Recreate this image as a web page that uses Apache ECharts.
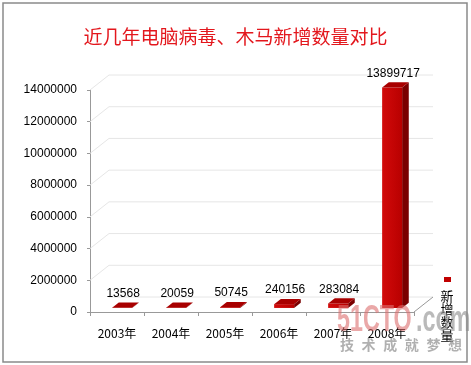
<!DOCTYPE html>
<html>
<head>
<meta charset="utf-8">
<script src="https://cdn.jsdelivr.net/npm/echarts@6/dist/echarts.min.js"></script>
<style>
html,body{margin:0;padding:0;background:#fff;}
#c{width:471px;height:365px;}
</style>
</head>
<body>
<div id="c"></div>
<script>
const titleText = '近几年电脑病毒、木马新增数量对比';
const categories = ['2003年', '2004年', '2005年', '2006年', '2007年', '2008年'];
const values = [13568, 20059, 50745, 240156, 283084, 13899717];
const gridValues = [2000000, 4000000, 6000000, 8000000, 10000000, 12000000, 14000000];
const legendName = '新增数量';
const watermarkChars = ['技', '术', '成', '就', '梦', '想'];

const DX = 19, DY = -15;      // depth offset of the 3D box
const F1 = 0.27, F2 = 0.62;   // bar front/back depth fractions

const chart = echarts.init(document.getElementById('c'), null, {renderer: 'canvas'});

function wallItem(params, api) {
  const cs = params.coordSys;
  const p = api.coord([0, api.value(1)]);
  const y = p[1];
  return {
    type: 'polyline',
    shape: {points: [[cs.x, y], [cs.x + DX, y + DY], [cs.x + cs.width + DX, y + DY]]},
    style: {stroke: '#e6e6e6', lineWidth: 1, fill: null},
    silent: true
  };
}

function barItem(params, api) {
  const i = api.value(0), v = api.value(1);
  const base = api.coord([i, 0]);
  const top = api.coord([i, v]);
  const band = api.size([1, 0])[0];
  const w = band * 0.37;
  const x0 = base[0] - w / 2 + F1 * DX, x1 = x0 + w;
  const yb = base[1] + F1 * DY, yt = top[1] + F1 * DY;
  const ddx = (F2 - F1) * DX, ddy = (F2 - F1) * DY;
  return {
    type: 'group',
    children: [
      {type: 'polygon', shape: {points: [[x1, yb], [x1, yt], [x1 + ddx, yt + ddy], [x1 + ddx, yb + ddy]]},
       style: {fill: '#7a0000'}},
      {type: 'rect', shape: {x: x0, y: yt, width: w, height: Math.max(yb - yt, 0)},
       style: {fill: new echarts.graphic.LinearGradient(0, 0, 1, 0, [
         {offset: 0, color: '#d20a0a'}, {offset: 1, color: '#b80000'}])}},
      {type: 'polygon', shape: {points: [[x0, yt], [x1, yt], [x1 + ddx, yt + ddy], [x0 + ddx, yt + ddy]]},
       style: {fill: '#a80000'}},
      {type: 'text', x: x0 + w / 2 + 1, y: yt + ddy - 9,
       style: {text: String(v), fill: '#000', font: '12px "Liberation Sans", Arial, sans-serif',
               align: 'center', verticalAlign: 'middle'}}
    ]
  };
}

const graphics = [
  {type: 'rect', shape: {x: 3, y: 3, width: 464, height: 359}, style: {fill: null, stroke: '#8a8a8a', lineWidth: 1.5}, z: 100},
  {type: 'line', shape: {x1: 414, y1: 312, x2: 414 + DX, y2: 312 + DY}, style: {stroke: '#999', lineWidth: 1}, z: 1},
  {type: 'line', shape: {x1: 90 + DX, y1: 312 + DY, x2: 414 + DX, y2: 312 + DY}, style: {stroke: '#e6e6e6', lineWidth: 1}, z: 0},
  {type: 'rect', shape: {x: 444, y: 277, width: 7, height: 5}, style: {fill: '#c00000'}, z: 10},
  {type: 'text', x: 447, y: 290, style: {text: legendName.split('').join('\n'), fill: '#000', font: '13px "Noto Sans CJK SC", sans-serif', align: 'center', lineHeight: 13}, z: 10},
  {type: 'text', x: 337, y: 302, scaleX: 0.63, originX: 0, originY: 0,
   style: {text: '51CTO', fill: 'rgba(220,110,110,0.6)', font: 'bold 37px "Liberation Sans", Arial, sans-serif'}, z: 50},
  {type: 'text', x: 416, y: 302, scaleX: 0.63, originX: 0, originY: 0,
   style: {text: '.com', fill: 'rgba(140,140,140,0.6)', font: 'bold 37px "Liberation Sans", Arial, sans-serif'}, z: 50}
];
watermarkChars.forEach((ch, k) => {
  graphics.push({type: 'text', x: 340 + k * 21.6, y: 338,
    style: {text: ch, fill: 'rgba(150,150,150,0.75)', font: 'bold 14px "Noto Sans CJK SC", sans-serif'}, z: 50});
});

chart.setOption({
  animation: false,
  backgroundColor: '#fff',
  title: {
    text: titleText, left: 'center', top: 22,
    textStyle: {color: '#e3171d', fontSize: 19, fontWeight: 'normal', fontFamily: '"Noto Sans CJK SC", sans-serif'}
  },
  grid: {left: 90, right: 57, top: 90, bottom: 53, containLabel: false},
  xAxis: {
    type: 'category', data: categories, boundaryGap: true,
    axisLine: {lineStyle: {color: '#999', width: 1}},
    axisTick: {show: true, length: 4, lineStyle: {color: '#999'}},
    axisLabel: {color: '#000', fontSize: 12, margin: 15, fontFamily: '"Noto Sans CJK SC", "Liberation Sans", sans-serif'},
    splitLine: {show: false}
  },
  yAxis: {
    type: 'value', min: 0, max: 14000000, interval: 2000000,
    axisLine: {show: true, lineStyle: {color: '#999', width: 1}},
    axisTick: {show: true, length: 3, lineStyle: {color: '#999'}},
    axisLabel: {color: '#000', fontSize: 12, margin: 13, fontFamily: '"Liberation Sans", Arial, sans-serif',
                formatter: v => String(v)},
    splitLine: {show: false}
  },
  graphic: graphics,
  series: [
    {type: 'custom', name: 'wall', renderItem: wallItem, data: gridValues.map(v => [0, v]), z: 1, silent: true},
    {type: 'custom', name: legendName, renderItem: barItem, data: values.map((v, i) => [i, v]), z: 5}
  ]
});
</script>
</body>
</html>
